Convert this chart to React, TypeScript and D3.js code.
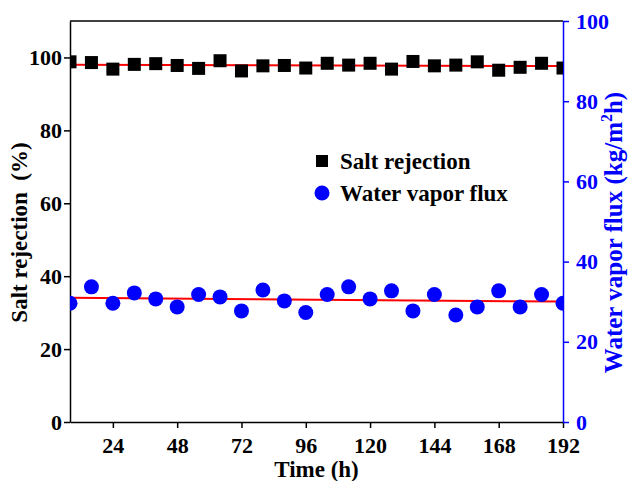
import React, { useEffect, useRef } from 'react'
import * as d3 from 'd3'

// time in hours
const hours = [8, 16, 24, 32, 40, 48, 56, 64, 72, 80, 88, 96, 104, 112, 120, 128, 136, 144, 152, 160, 168, 176, 184, 192]
// salt rejection (%)
const rejection = [98.8, 98.6, 96.8, 98.1, 98.3, 97.8, 97.0, 99.1, 96.3, 97.7, 97.8, 97.1, 98.4, 97.9, 98.4, 96.8, 98.9, 97.7, 97.9, 98.8, 96.5, 97.3, 98.4, 97.1]
// water vapor flux (kg/m2h)
const flux = [29.6, 33.7, 29.6, 32.2, 30.7, 28.7, 31.8, 31.2, 27.7, 32.9, 30.2, 27.3, 31.8, 33.7, 30.7, 32.7, 27.7, 31.8, 26.7, 28.7, 32.7, 28.7, 31.8, 29.6]
const xTicks = [24, 48, 72, 96, 120, 144, 168, 192]
const leftTicks = [0, 20, 40, 60, 80, 100]
const rightTicks = [0, 20, 40, 60, 80, 100]

const fit = (xs: number[], ys: number[]) => {
    const mx = d3.mean(xs)!, my = d3.mean(ys)!
    let num = 0, den = 0
    xs.forEach((x, i) => { num += (x - mx) * (ys[i] - my); den += (x - mx) * (x - mx) })
    const b = num / den
    return (x: number) => my + b * (x - mx)
}

const App = () => {
    const ref = useRef<SVGSVGElement>(null)

    useEffect(() => {
        const svg = d3.select(ref.current)
        svg.selectAll('*').remove()
        const margin = { top: 21, right: 65, bottom: 59, left: 70 }
        const width = 628 - margin.left - margin.right
        const height = 481 - margin.top - margin.bottom
        const font = "'Liberation Serif', 'Times New Roman', serif"
        const tickFs = '22px', titleFs = '23px'

        const x = d3.scaleLinear().domain([8, 192]).range([0, width])
        const yL = d3.scaleLinear().domain([0, 110]).range([height, 0])
        const yR = d3.scaleLinear().domain([0, 100]).range([height, 0])

        const g = svg.append('g').attr('transform', `translate(${margin.left},${margin.top})`)

        g.append('clipPath').attr('id', 'plotclip')
            .append('rect').attr('width', width).attr('height', height)

        // top frame line
        g.append('line').attr('x1', 0).attr('x2', width).attr('y1', 0).attr('y2', 0)
            .attr('stroke', '#000').attr('stroke-width', 1.5)

        const styleAxis = (sel: any, col: string) => {
            sel.select('.domain').attr('stroke', col).attr('stroke-width', 1.5)
            sel.selectAll('.tick line').attr('stroke', col).attr('stroke-width', 1.5)
            sel.selectAll('text').attr('fill', col).style('font-family', font)
                .style('font-size', tickFs).style('font-weight', 'bold')
        }

        const xa = g.append('g').attr('transform', `translate(0,${height})`)
            .call(d3.axisBottom(x).tickValues(xTicks).tickSize(6).tickSizeOuter(0).tickPadding(9))
        styleAxis(xa, '#000')

        const la = g.append('g')
            .call(d3.axisLeft(yL).tickValues(leftTicks).tickSize(6).tickSizeOuter(0).tickPadding(2))
        styleAxis(la, '#000')

        const ra = g.append('g').attr('transform', `translate(${width},0)`)
            .call(d3.axisRight(yR).tickValues(rightTicks).tickSize(6).tickSizeOuter(0).tickPadding(7))
        styleAxis(ra, '#0000ff')

        // axis titles
        g.append('text').attr('x', width / 2).attr('y', height + 55)
            .attr('text-anchor', 'middle').style('font-family', font).style('font-size', titleFs)
            .style('font-weight', 'bold').text('Time (h)')
        g.append('text').attr('transform', `translate(${-43},${height / 2 + 11}) rotate(-90)`)
            .attr('text-anchor', 'middle').style('font-family', font).style('font-size', titleFs)
            .style('font-weight', 'bold').attr('xml:space', 'preserve').text('Salt rejection  (%)')
        const rt = g.append('text').attr('transform', `translate(${width + 59},${height / 2 + 11}) rotate(-90)`)
            .attr('text-anchor', 'middle').attr('fill', '#0000ff').style('font-family', font)
            .style('font-size', '25px').style('font-weight', 'bold')
        rt.append('tspan').text('Water vapor flux (kg/m')
        rt.append('tspan').attr('dy', -10).style('font-size', '16px').text('2')
        rt.append('tspan').attr('dy', 10).text('h)')

        const plot = g.append('g').attr('clip-path', 'url(#plotclip)')

        // fitted lines
        const fL = fit(hours, rejection)
        const fR = fit(hours, flux)
        plot.append('line').attr('x1', x(8)).attr('x2', x(192))
            .attr('y1', yL(fL(8))).attr('y2', yL(fL(192)))
            .attr('stroke', '#ff0000').attr('stroke-width', 2)

        plot.selectAll('.sq').data(hours).enter().append('rect')
            .attr('x', (d) => x(d) - 6.5).attr('y', (d, i) => yL(rejection[i]) - 6.5)
            .attr('width', 13).attr('height', 13).attr('fill', '#000')

        plot.append('line').attr('x1', x(8)).attr('x2', x(192))
            .attr('y1', yR(fR(8))).attr('y2', yR(fR(192)))
            .attr('stroke', '#ff0000').attr('stroke-width', 2)

        plot.selectAll('.ci').data(hours).enter().append('circle')
            .attr('cx', (d) => x(d)).attr('cy', (d, i) => yR(flux[i]))
            .attr('r', 7.5).attr('fill', '#0000ff')

        // legend
        const lg = g.append('g').attr('transform', `translate(252,140)`)
        lg.append('rect').attr('x', -6).attr('y', -6).attr('width', 12).attr('height', 12).attr('fill', '#000')
        lg.append('text').attr('x', 18).attr('y', 8).style('font-family', font).style('font-size', titleFs)
            .style('font-weight', 'bold').text('Salt rejection')
        lg.append('circle').attr('cx', 0).attr('cy', 32).attr('r', 7.5).attr('fill', '#0000ff')
        lg.append('text').attr('x', 18).attr('y', 40).style('font-family', font).style('font-size', titleFs)
            .style('font-weight', 'bold').text('Water vapor flux')
    }, [])

    return (
        <svg ref={ref} width={628} height={481}
            style={{ position: 'absolute', left: 0, top: 0, background: '#fff' }} />
    )
}

export default App
